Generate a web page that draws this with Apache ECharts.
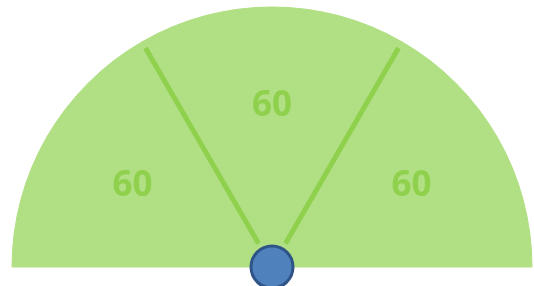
<!DOCTYPE html>
<html>
<head>
<meta charset="utf-8">
<script src="https://cdn.jsdelivr.net/npm/echarts@6/dist/echarts.min.js"></script>
<style>
  html, body { margin: 0; padding: 0; background: #ffffff; }
  #chart { width: 534px; height: 286px; }
</style>
</head>
<body>
<div id="chart"></div>
<script>
// three visible sectors of the half dial, the other half is hidden
const sectorValues = [60, 60, 60];
const hiddenHalf = 180;

const chart = echarts.init(document.getElementById("chart"));

const center = [272, 267];
const fillColor = "#b1df83";
const lineColor = "#8fd14d";

function pieData() {
  const items = sectorValues.map((v) => ({ value: v, name: String(v) }));
  items.push({
    value: hiddenHalf,
    name: "hidden",
    itemStyle: { color: "none", borderWidth: 0 },
    label: { show: false },
  });
  return items;
}

chart.setOption({
  animation: false,
  series: [
    {
      type: "pie",
      z: 1,
      center: center,
      radius: [0, 260],
      startAngle: 180,
      silent: true,
      label: { show: false },
      labelLine: { show: false },
      itemStyle: { color: fillColor, borderColor: fillColor, borderWidth: 1 },
      emphasis: { disabled: true },
      data: pieData(),
    },
    {
      type: "pie",
      z: 2,
      center: center,
      radius: [56, 260],
      startAngle: 180,
      silent: true,
      itemStyle: { color: "none", borderWidth: 0 },
      label: {
        show: true,
        position: "inside",
        formatter: "{c}",
        color: lineColor,
        fontFamily: "Open Sans",
        fontWeight: "bold",
        fontSize: 35,
      },
      labelLine: { show: false },
      emphasis: { disabled: true },
      data: pieData(),
    },
    {
      type: "gauge",
      z: 10,
      center: center,
      radius: 253,
      startAngle: 120,
      endAngle: 60,
      min: 0,
      max: 60,
      splitNumber: 1,
      silent: true,
      axisLine: { show: false, lineStyle: { width: 0 } },
      axisTick: { show: false },
      axisLabel: { show: false },
      splitLine: { show: true, distance: 0, length: 226, lineStyle: { color: lineColor, width: 5 } },
      pointer: { show: false },
      title: { show: false },
      detail: { show: false },
      anchor: {
        show: true,
        showAbove: true,
        size: 42,
        itemStyle: { color: "#4f81bd", borderColor: "#2f5487", borderWidth: 3 },
      },
      data: [{ value: 0 }],
    },
  ],
});
</script>
</body>
</html>
